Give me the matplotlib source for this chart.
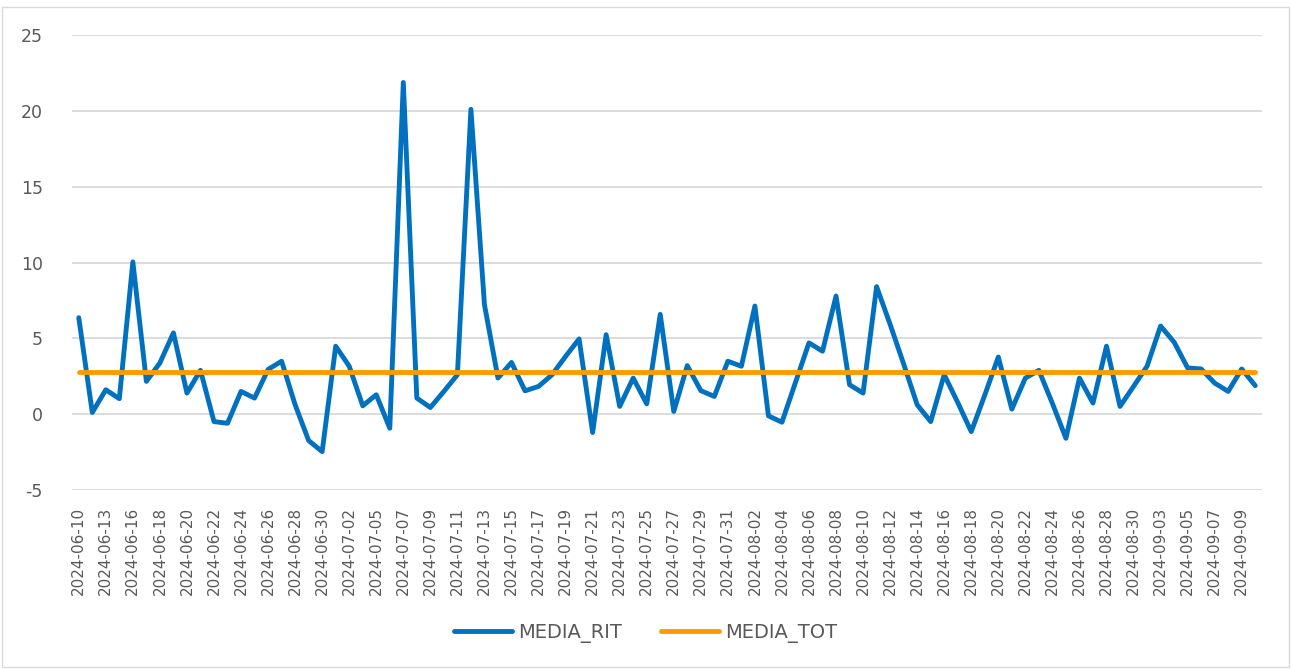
import matplotlib
matplotlib.use("Agg")
import matplotlib.pyplot as plt
from matplotlib.patches import Rectangle

# categories (one per day in the series, only every other one is labelled)
dates = [
    "2024-06-10", "2024-06-12", "2024-06-13", "2024-06-15", "2024-06-16", "2024-06-17",
    "2024-06-18", "2024-06-19", "2024-06-20", "2024-06-21", "2024-06-22", "2024-06-23",
    "2024-06-24", "2024-06-25", "2024-06-26", "2024-06-27", "2024-06-28", "2024-06-29",
    "2024-06-30", "2024-07-01", "2024-07-02", "2024-07-04", "2024-07-05", "2024-07-06",
    "2024-07-07", "2024-07-08", "2024-07-09", "2024-07-10", "2024-07-11", "2024-07-12",
    "2024-07-13", "2024-07-14", "2024-07-15", "2024-07-16", "2024-07-17", "2024-07-18",
    "2024-07-19", "2024-07-20", "2024-07-21", "2024-07-22", "2024-07-23", "2024-07-24",
    "2024-07-25", "2024-07-26", "2024-07-27", "2024-07-28", "2024-07-29", "2024-07-30",
    "2024-07-31", "2024-08-01", "2024-08-02", "2024-08-03", "2024-08-04", "2024-08-05",
    "2024-08-06", "2024-08-07", "2024-08-08", "2024-08-09", "2024-08-10", "2024-08-11",
    "2024-08-12", "2024-08-13", "2024-08-14", "2024-08-15", "2024-08-16", "2024-08-17",
    "2024-08-18", "2024-08-19", "2024-08-20", "2024-08-21", "2024-08-22", "2024-08-23",
    "2024-08-24", "2024-08-25", "2024-08-26", "2024-08-27", "2024-08-28", "2024-08-29",
    "2024-08-30", "2024-09-01", "2024-09-03", "2024-09-04", "2024-09-05", "2024-09-06",
    "2024-09-07", "2024-09-08", "2024-09-09", "2024-09-10",
]

media_rit = [
    6.36, 0.11, 1.61, 1.02, 10.04, 2.16, 3.38, 5.36, 1.39, 2.89,
    -0.49, -0.60, 1.50, 1.06, 2.95, 3.49, 0.62, -1.74, -2.47, 4.48,
    3.16, 0.55, 1.28, -0.93, 21.87, 1.06, 0.44, 1.50, 2.60, 20.10,
    7.22, 2.38, 3.41, 1.54, 1.83, 2.60, 3.81, 4.96, -1.21, 5.24,
    0.51, 2.38, 0.68, 6.58, 0.18, 3.20, 1.55, 1.17, 3.49, 3.16,
    7.13, -0.11, -0.53, 2.09, 4.70, 4.15, 7.79, 1.94, 1.39, 8.41,
    5.92, 3.31, 0.62, -0.49, 2.60, 0.77, -1.15, 1.26, 3.77, 0.33,
    2.38, 2.89, 0.71, -1.59, 2.38, 0.73, 4.48, 0.51, 1.83, 3.16,
    5.81, 4.75, 3.05, 2.98, 2.05, 1.50, 2.98, 1.88,
]

media_tot_value = 2.78
media_tot = [media_tot_value] * len(dates)

y_ticks = [-5, 0, 5, 10, 15, 20, 25]

blue = "#0070C0"
orange = "#FF9A00"
grid_col = "#D9D9D9"
text_col = "#595959"

fig = plt.figure(figsize=(12.91, 6.69), dpi=100)
ax = fig.add_axes([72 / 1291, 1 - 490 / 669, (1262 - 72) / 1291, (490 - 35) / 669])

x = list(range(len(dates)))
ax.plot(x, media_rit, color=blue, lw=3.5, solid_joinstyle="round",
        solid_capstyle="round", label="MEDIA_RIT", zorder=3)
ax.plot(x, media_tot, color=orange, lw=3.5, solid_capstyle="round",
        label="MEDIA_TOT", zorder=4)

ax.set_xlim(-0.5, len(dates) - 0.5)
ax.set_ylim(-5, 25)
ax.set_yticks(y_ticks)
ax.set_yticklabels([str(v) for v in y_ticks], color=text_col, fontsize=12.5)
ax.yaxis.grid(True, color=grid_col, lw=1.3)
ax.set_axisbelow(True)

ax.set_xticks(x[::2])
ax.set_xticklabels(dates[::2], rotation=90, color=text_col, fontsize=11)

ax.tick_params(axis="both", length=0)
ax.tick_params(axis="x", pad=12)
ax.tick_params(axis="y", pad=21)
for s in ax.spines.values():
    s.set_visible(False)

fig.legend(loc="center", bbox_to_anchor=(0.5, 1 - 633 / 669), ncol=2, frameon=False,
           fontsize=14, handlelength=3.0, columnspacing=2.0, handletextpad=0.3,
           labelcolor=text_col)

fig.patches.append(Rectangle((2 / 1291, 2 / 669), 1 - 4 / 1291, 1 - 9 / 669,
                             transform=fig.transFigure, fill=False,
                             edgecolor=grid_col, lw=1))

fig.savefig("out.png", dpi=100)
